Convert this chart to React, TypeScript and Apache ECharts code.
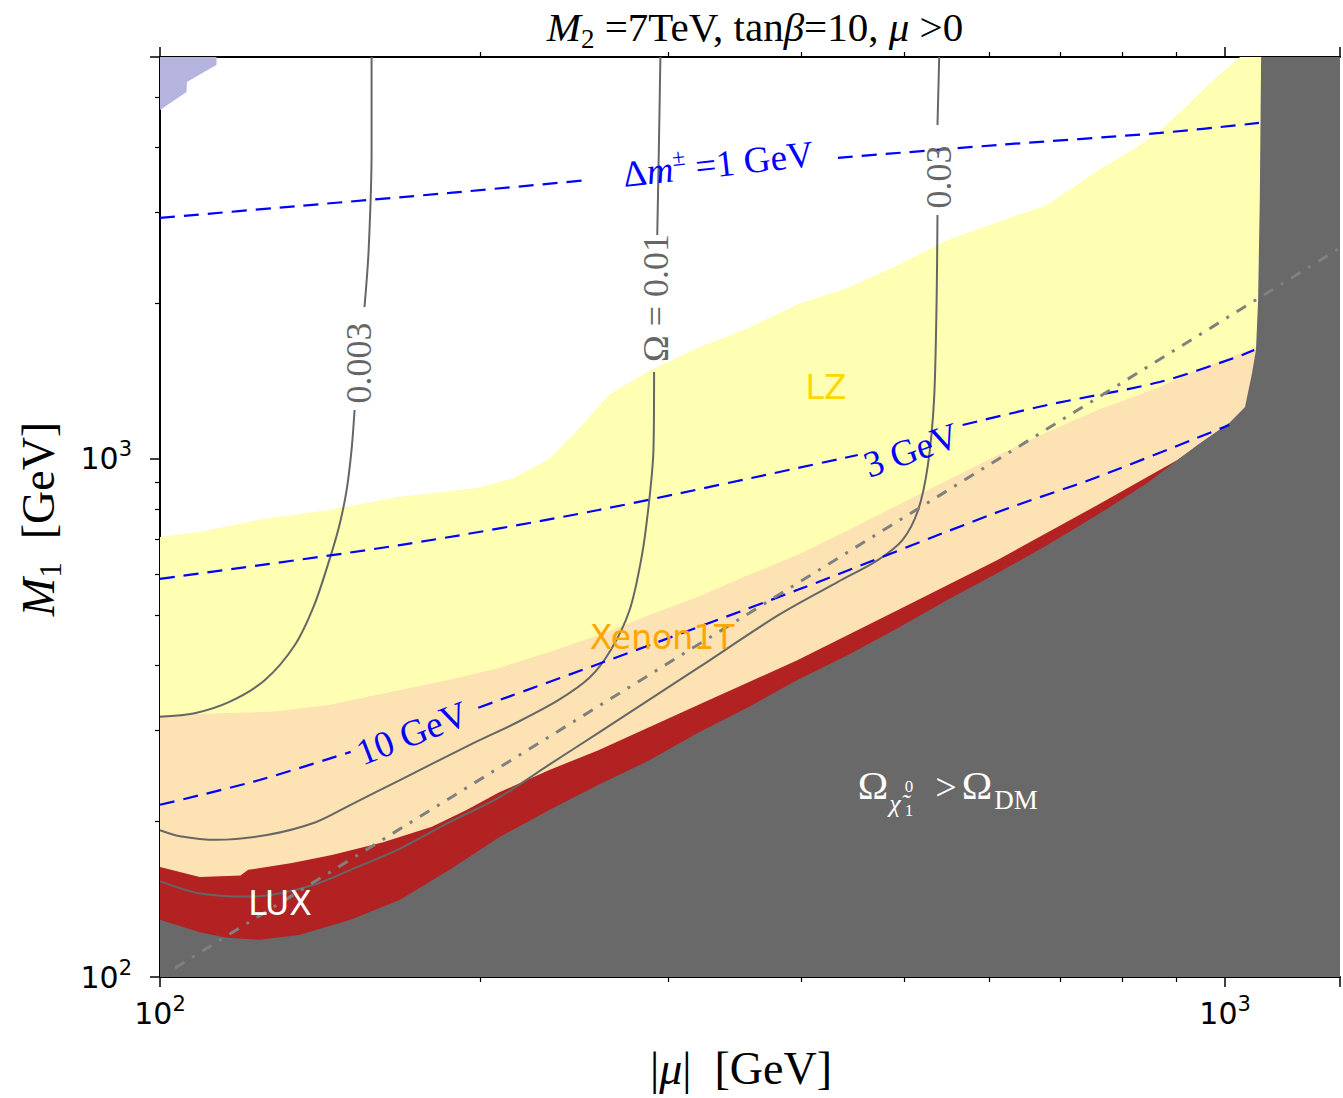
import React, { useEffect, useRef } from 'react';
import * as echarts from 'echarts';

// axis extents (GeV)
const X_MIN = 100;
const X_MAX = 1282;
const Y_MIN = 100;
const Y_MAX = 5970;

// upper edge of the LZ reach (|mu|, M1)
const lzEdge = [[100,707],[109,723],[124,763],[144,797],[168,845],[199,879],[215,920],[232,1000],[248,1150],[264,1330],[288,1480],[320,1640],[357,1790],[397,1990],[443,2140],[493,2369],[549,2647],[612,2868],[681,3093],[759,3600],[827,4000],[864,4260],[912,4717],[968,5319],[1033,5970]];
// upper edge of the Xenon1T reach
const xenonEdge = [[100,320],[114,323],[127,325],[144,335],[168,358],[187,375],[208,395],[232,424],[258,457],[288,500],[320,542],[357,597],[397,653],[443,729],[493,815],[549,911],[612,1018],[681,1127],[759,1243],[864,1371],[942,1485],[1065,1638]];
// upper edge of the LUX exclusion
const luxEdge = [[100,163],[109,156],[119,157],[121,161],[133,166],[145,172],[162,182],[180,195],[194,210],[208,227],[232,251],[258,274],[320,335],[397,409],[493,511],[612,639],[759,815],[902,996],[1009,1173]];
// boundary of the overabundant-relic region
const relicEdge = [[100,129],[109,122],[115.5,119],[124,118],[135,120.5],[151,129],[168,141],[187,161],[208,186],[232,210],[258,235],[288,262],[320,296],[357,332],[397,375],[443,419],[493,472],[549,535],[612,603],[681,682],[759,780],[845,899],[942,1064],[1009,1173],[1044,1260],[1060,1466],[1069,1623],[1074,2027],[1078,3205],[1081,5970]];
// small excluded patch, top-left corner
const cornerPatch = [[100,5970],[113,5970],[113,5762],[110,5586],[106,5343],[105.9,5110],[100,4717]];

// relic-density contours
const omega003a = [[158,5970],[158,3950],[157,2532],[155.6,1965]];
const omega003b = [[152.3,1243],[151.3,1041],[149.7,871],[147.4,746],[144.2,638],[139.6,523],[133.8,437],[125.4,374],[116.3,340],[107.8,323],[100,318]];
const omega01a = [[295,5970],[294,3950],[293,2707]];
const omega01b = [[291,1472],[290.6,1041],[288,834],[283.5,653],[276,511],[265,428],[253,378],[237,343],[217,311],[195,280],[168,240],[151,215],[140,199],[126,188],[113,184],[104.4,187],[100,192]];
const omega03a = [[539,5970],[537,4414]];
const omega03b = [[537,2958],[536,2027],[533,1300],[526,974],[515,797],[498,698],[472,638],[433,579],[381,500],[320,395],[258,296],[232,257],[208,222],[187,199],[168,177],[151,161],[140,151],[129.5,145],[121,143],[109,145],[100,153]];

// chargino-neutralino mass splitting contours
const dm1a = [[100,2920],[135,3079],[187,3263],[253,3457]];
const dm1b = [[433,3813],[612,4038],[869,4260],[1076,4453]];
const dm3a = [[100,587],[168,682],[258,797],[452,1018]];
const dm3b = [[567,1163],[681,1271],[868,1408],[1020,1567],[1065,1623]];
const dm10a = [[100,215],[124,240],[151,272]];
const dm10b = [[199,331],[258,402],[397,559],[612,790],[759,923],[1009,1163]];

// dash-dot reference line
const refLine = [[103.3,104.1],[1282,2555]];

const C_YELLOW = '#ffffb3';
const C_ORANGE = '#fde3b3';
const C_RED = '#b22222';
const C_GRAY = '#696969';
const C_PATCH = '#b4b4de';
const C_CONTOUR = '#666666';
const SERIF = '"Liberation Serif", "DejaVu Serif", serif';
const SANS = '"DejaVu Sans", sans-serif';

function closeBelow(edge: number[][]) {
  const last = edge[edge.length - 1];
  return [...edge, [X_MAX, last[1]], [X_MAX, Y_MIN], [X_MIN, Y_MIN]];
}

function polygonSeries(pts: number[][], color: string, z: number) {
  return {
    type: 'custom',
    coordinateSystem: 'cartesian2d',
    clip: true,
    silent: true,
    z,
    data: [pts[0]],
    renderItem: (_p: any, api: any) => ({
      type: 'polygon',
      shape: { points: pts.map((p) => api.coord(p)) },
      style: { fill: color, stroke: null },
    }),
  };
}

function lineSeries(pts: number[][], color: string, width: number, type: any, z: number, smooth = 0) {
  return {
    type: 'line',
    data: pts,
    showSymbol: false,
    symbol: 'none',
    smooth,
    clip: true,
    silent: true,
    z,
    lineStyle: { color, width, type, cap: 'butt' },
  };
}

function tickLabel(v: number) {
  const e = Math.log10(v);
  if (Math.abs(e - Math.round(e)) > 1e-6) return '';
  return `{b|10}{s|${Math.round(e)}}`;
}

const labelRich = {
  b: { fontFamily: SANS, fontSize: 30, color: '#000', lineHeight: 40 },
  s: { fontFamily: SANS, fontSize: 21, color: '#000', lineHeight: 22, verticalAlign: 'top' },
};

function makeAxis(extra: any, min: number, max: number) {
  return {
    type: 'log',
    logBase: 10,
    min,
    max,
    axisLine: { show: true, onZero: false, lineStyle: { color: '#000', width: 2 } },
    axisTick: { show: true, length: 10, lineStyle: { color: '#000', width: 1.5 } },
    minorTick: { show: true, splitNumber: 9, length: 5, lineStyle: { color: '#000', width: 1.2 } },
    splitLine: { show: false },
    minorSplitLine: { show: false },
    ...extra,
  };
}

function rotText(text: string, x: number, y: number, rot: number, rich: any, fill: string) {
  return {
    type: 'text',
    x,
    y,
    rotation: rot,
    silent: true,
    z: 100,
    style: { text, align: 'center', verticalAlign: 'middle', rich, fill },
  };
}

function plain(text: string, x: number, y: number, size: number, fill: string, family: string, italic = false) {
  return {
    type: 'text', x, y, silent: true, z: 100,
    style: { text, fontFamily: family, fontSize: size, fontStyle: italic ? 'italic' : 'normal', fill, align: 'center', verticalAlign: 'middle' },
  };
}

export default function App() {
  const ref = useRef<HTMLDivElement>(null);
  useEffect(() => {
    const chart = echarts.init(ref.current!, null, { renderer: 'svg' });
    const contourRich = { r: { fontFamily: SERIF, fontSize: 36, color: C_CONTOUR } };
    const blueRich = {
      r: { fontFamily: SERIF, fontSize: 37, color: '#0000ff', lineHeight: 46 },
      i: { fontFamily: SERIF, fontSize: 37, fontStyle: 'italic', color: '#0000ff', lineHeight: 46 },
      sp: { fontFamily: SERIF, fontSize: 24, color: '#0000ff', lineHeight: 24, verticalAlign: 'top' },
    };
    const titleRich = {
      r: { fontFamily: SERIF, fontSize: 41, color: '#000', lineHeight: 50 },
      i: { fontFamily: SERIF, fontSize: 41, fontStyle: 'italic', color: '#000', lineHeight: 50 },
      sb: { fontFamily: SERIF, fontSize: 27, color: '#000', lineHeight: 24, verticalAlign: 'bottom' },
    };
    const axisNameRich = {
      r: { fontFamily: SERIF, fontSize: 46, color: '#000', lineHeight: 56 },
      i: { fontFamily: SERIF, fontSize: 46, fontStyle: 'italic', color: '#000', lineHeight: 56 },
      sb: { fontFamily: SERIF, fontSize: 31, color: '#000', lineHeight: 28, verticalAlign: 'bottom' },
    };

    const option: any = {
      animation: false,
      backgroundColor: '#fff',
      grid: { left: 160, top: 57, right: 0, bottom: 121, containLabel: false },
      xAxis: [
        makeAxis({
          position: 'bottom',
          axisLabel: { formatter: tickLabel, rich: labelRich, margin: 16 },
        }, X_MIN, X_MAX),
        makeAxis({
          position: 'top',
          axisLabel: { show: false },
        }, X_MIN, X_MAX),
      ],
      yAxis: [
        makeAxis({
          position: 'left',
          axisLabel: { formatter: tickLabel, rich: labelRich, margin: 28 },
        }, Y_MIN, Y_MAX),
      ],
      series: [
        polygonSeries(closeBelow(lzEdge), C_YELLOW, 1),
        polygonSeries(closeBelow(xenonEdge), C_ORANGE, 2),
        polygonSeries(closeBelow(luxEdge), C_RED, 3),
        polygonSeries([...relicEdge, [X_MAX, Y_MAX], [X_MAX, Y_MIN], [X_MIN, Y_MIN]], C_GRAY, 4),
        polygonSeries(cornerPatch, C_PATCH, 5),
        lineSeries(omega003a, C_CONTOUR, 2, 'solid', 6, 0.3),
        lineSeries(omega003b, C_CONTOUR, 2, 'solid', 6, 0.3),
        lineSeries(omega01a, C_CONTOUR, 2, 'solid', 6, 0.3),
        lineSeries(omega01b, C_CONTOUR, 2, 'solid', 6, 0.3),
        lineSeries(omega03a, C_CONTOUR, 2, 'solid', 6, 0.3),
        lineSeries(omega03b, C_CONTOUR, 2, 'solid', 6, 0.3),
        lineSeries(dm1a, '#0000ff', 2.2, [15, 9], 7, 0.3),
        lineSeries(dm1b, '#0000ff', 2.2, [15, 9], 7, 0.3),
        lineSeries(dm3a, '#0000ff', 2.2, [15, 9], 7, 0.3),
        lineSeries(dm3b, '#0000ff', 2.2, [15, 9], 7, 0.3),
        lineSeries(dm10a, '#0000ff', 2.2, [15, 9], 7, 0.3),
        lineSeries(dm10b, '#0000ff', 2.2, [15, 9], 7, 0.3),
        lineSeries(refLine, '#808080', 3, [11, 9, 3, 9], 8),
      ],
      graphic: [
        // title
        rotText('{i|M}{sb|2}{r| =7TeV, tan}{i|β}{r|=10, }{i|μ}{r| >0}', 755, 27, 0, titleRich, '#000'),
        // axis names
        rotText('{r||}{i|μ}{r||  [GeV]}', 741, 1068, 0, axisNameRich, '#000'),
        rotText('{i|M}{sb|1}{r|  [GeV]}', 38, 519, Math.PI / 2, axisNameRich, '#000'),
        // contour labels
        rotText('{r|0.003}', 359, 363, Math.PI / 2, contourRich, C_CONTOUR),
        rotText('{r|Ω = 0.01}', 656, 298, Math.PI / 2, contourRich, C_CONTOUR),
        rotText('{r|0.03}', 939, 177, Math.PI / 2, contourRich, C_CONTOUR),
        // mass splitting labels
        rotText('{r|Δ}{i|m}{sp|±}{r| =1 GeV}', 718, 164, 0.11, blueRich, '#0000ff'),
        rotText('{r|3 GeV}', 911, 450, 0.34, blueRich, '#0000ff'),
        rotText('{r|10 GeV}', 412, 733, 0.37, blueRich, '#0000ff'),
        // region labels
        plain('LZ', 826, 387, 33, '#ffd700', SANS),
        plain('Xenon1T', 662, 637, 33, '#ffa500', SANS),
        plain('LUX', 280, 903, 33, '#ffffff', SANS),
        // relic annotation
        plain('Ω', 873, 785, 41, '#fff', SERIF),
        plain('χ̃', 895, 803, 26, '#fff', SERIF, true),
        plain('0', 909, 786, 17, '#fff', SERIF),
        plain('1', 909, 810, 17, '#fff', SERIF),
        plain('>', 946, 787, 38, '#fff', SERIF),
        plain('Ω', 977, 785, 41, '#fff', SERIF),
        plain('DM', 1016, 800, 27, '#fff', SERIF),
      ],
    };
    chart.setOption(option);
    return () => chart.dispose();
  }, []);
  return (
    <div
      ref={ref}
      style={{ position: 'absolute', left: 0, top: 0, width: 1343, height: 1098, background: '#fff' }}
    />
  );
}
